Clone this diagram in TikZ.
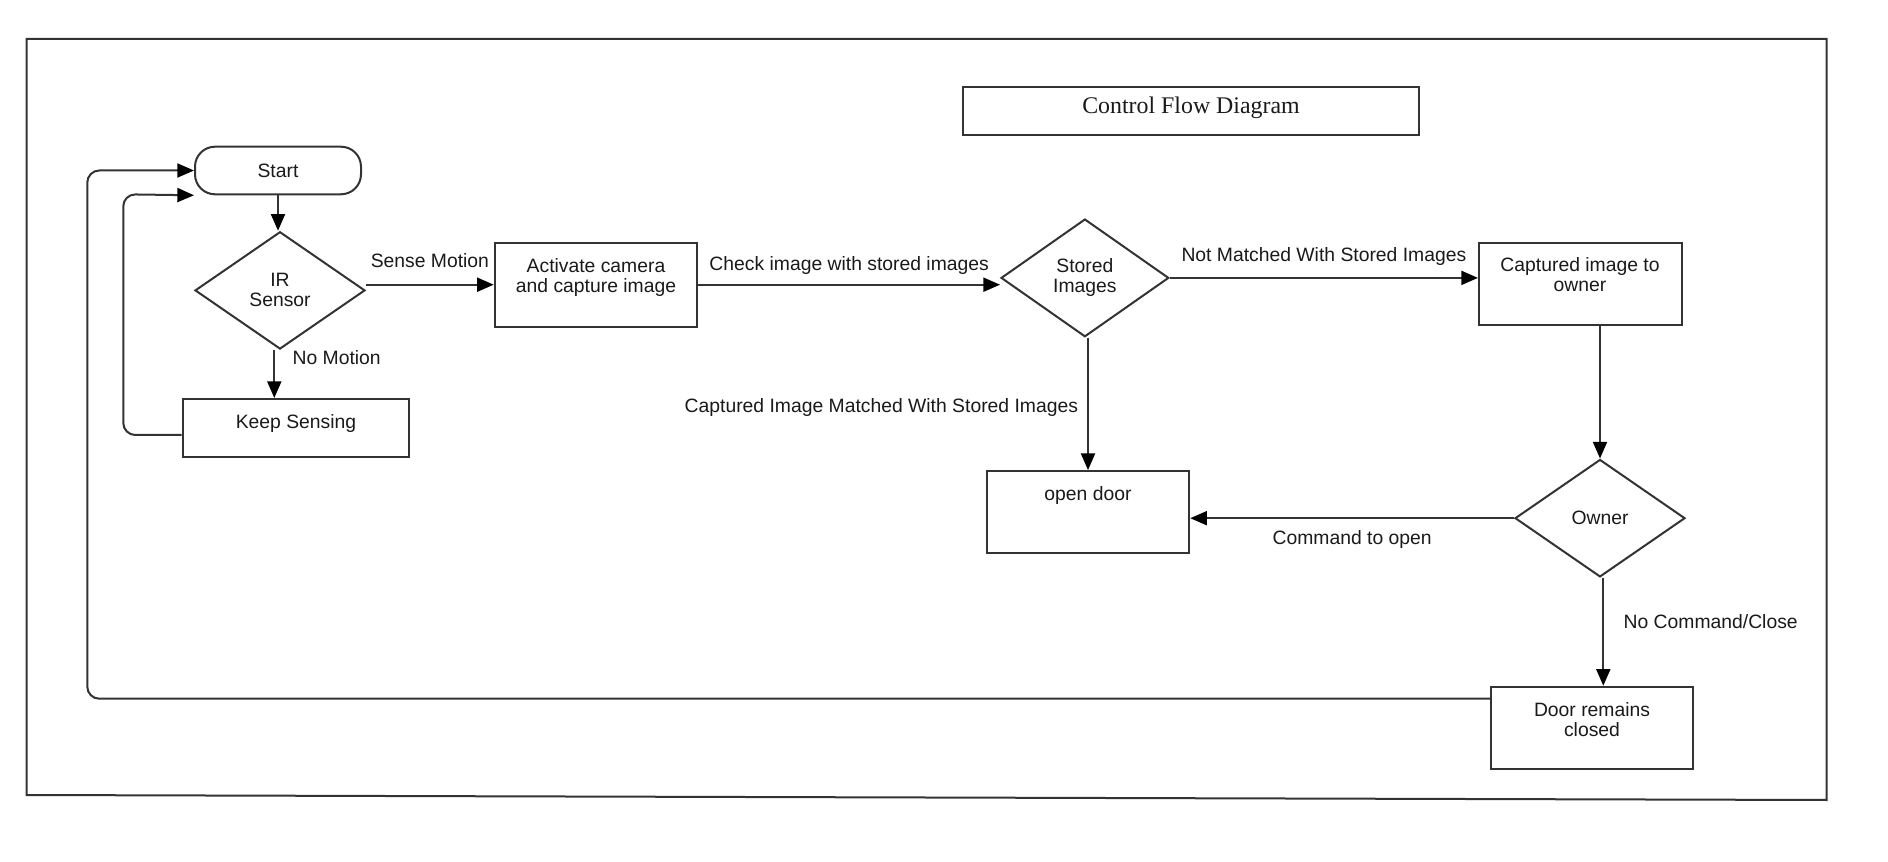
\documentclass[tikz,border=0pt]{standalone}
\usepackage{fontspec}
\setmainfont{Liberation Sans}
\newfontfamily\titlefont{Liberation Serif}
\usetikzlibrary{arrows.meta,shapes.geometric,calc}
\definecolor{lc}{HTML}{333333}
\definecolor{tc}{HTML}{1A1A1A}
\begin{document}
\begin{tikzpicture}[x=0.75pt,y=-0.75pt,
  every node/.style={font=\fontsize{14.5}{15}\selectfont, text=tc},
  box/.style={draw=lc, line width=1.5pt, fill=white, inner sep=0pt, rectangle},
  dia/.style={draw=lc, line width=1.5pt, fill=white, diamond, inner sep=0pt, align=center},
  txt/.style={inner sep=0pt, align=center},
  lbl/.style={inner sep=0pt},
  arr/.style={draw=lc, line width=1.5pt, -{Triangle[length=12.5pt,width=10.5pt,color=black]}},
]
\useasboundingbox (0,0) rectangle (1888,862);
\fill[white] (0,0) rectangle (1888,862);
% outer frame
\draw[lc, line width=1.5pt] (26.7,39) -- (1826.6,39) -- (1826.6,800) -- (26.7,795) -- cycle;

% title
\node[box, minimum width=342.5pt, minimum height=36pt] (title) at (1191,110.7) {};
\node[txt, font=\titlefont\fontsize{17.9}{20}\selectfont] (titlet) at (1191,108.1) {Control Flow Diagram};

% nodes
\node[box, rounded corners=15pt, minimum width=124.5pt, minimum height=35.7pt] (start) at (278,170.5) {Start};
\node[dia, minimum width=127.5pt, minimum height=88pt] (ir) at (280,290.4) {IR\\Sensor};
\node[box, minimum width=151.9pt, minimum height=63pt] (act) at (596,284.7) {};
\node[txt] (actt) at (596,277.6) {Activate camera\\and capture image};
\node[box, minimum width=170pt, minimum height=43.5pt] (ks) at (296,428) {};
\node[txt] (kst) at (296,423.6) {Keep Sensing};
\node[dia, minimum width=125.8pt, minimum height=88.3pt] (stored) at (1084.9,277.9) {Stored\\Images};
\node[box, minimum width=152pt, minimum height=61.7pt] (cap) at (1580.3,284) {};
\node[txt] (capt) at (1580,275) {Captured image to\\owner};
\node[dia, minimum width=127.5pt, minimum height=88.1pt] (owner) at (1600,518.2) {Owner};
\node[box, minimum width=151.9pt, minimum height=61.7pt] (open) at (1088,512.2) {};
\node[txt] (opent) at (1088,495.2) {open door};
\node[box, minimum width=151.9pt, minimum height=61.7pt] (door) at (1592,727.9) {};
\node[txt] (doort) at (1592,719.2) {Door remains\\closed};

% connectors
\draw[arr] (start.south) -- (start.south |- ir.north);
\draw[arr] (ir.east |- act.west) -- node[lbl, yshift=18.2pt] (lsense) {Sense Motion} (act.west);
\draw[arr] ($(ir.south)+(-5.7,0)$) -- node[lbl, right=13pt, yshift=12pt] (lnomo) {No Motion} ($(ir.south |- ks.north)+(-5.7,0)$);
\draw[arr] (act.east) -- node[lbl, yshift=14.3pt] (lcheck) {Check image with stored images} (act.east -| stored.west);
\draw[arr] (stored.east) -- node[lbl, yshift=16.4pt] (lnot) {Not Matched With Stored Images} (stored.east -| cap.west);
\draw[arr] (stored.south -| open.north) -- node[lbl, left=6.75pt, yshift=-2.8pt] (lmatch) {Captured Image Matched With Stored Images} (open.north);
\draw[arr] (owner.north |- cap.south) -- (owner.north);
\draw[arr] (owner.west) -- node[lbl, yshift=-16.2pt] (lcmd) {Command to open} (owner.west -| open.east);
\draw[arr] ($(owner.south)+(3.3,0)$) -- node[lbl, right=14.5pt, yshift=7.4pt] (lnocmd) {No Command/Close} ($(owner.south |- door.north)+(3.3,0)$);
\draw[arr, rounded corners=9pt] ($(ks.west)+(0,7)$) -| (123.3,194.3) -- (start.south west);
\draw[arr, rounded corners=9pt] ($(door.west)+(0,-29.2)$) -| (87.3,170.5) -- (start.west);
\end{tikzpicture}
\end{document}
